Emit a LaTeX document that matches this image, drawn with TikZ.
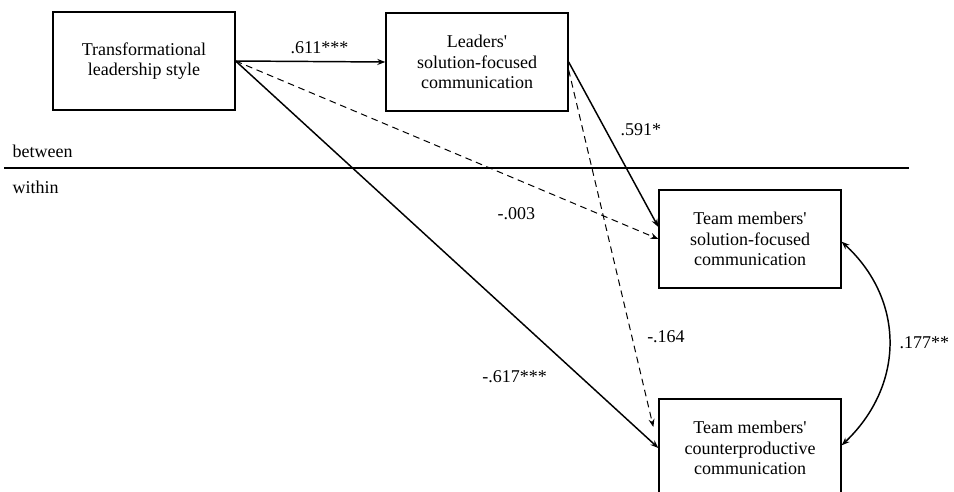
\documentclass[tikz,border=0pt]{standalone}
\usepackage{fontspec}
\setmainfont{Liberation Serif}[Ligatures=TeXOff]
\usetikzlibrary{arrows.meta}
\tikzset{
	var/.style={draw,line width=1pt,minimum width=136.5pt,minimum height=73.5pt,align=center,inner sep=2pt},
	eff/.style={->,line width=1.1pt},
	ns/.style={->,line width=0.75pt,dash pattern=on 5pt off 3.5pt},
}
\begin{document}
\begin{tikzpicture}[>={Stealth[length=6pt,width=4.5pt]},x=0.75pt,y=-0.75pt,font=\fontsize{13.5}{15.5}\selectfont]
	\useasboundingbox (0,0) rectangle (954,492);
	\node[var] (tls) at (144,61) {Transformational\\leadership style};
	\node[var] (lsf) at (477,62) {Leaders'\\solution-focused\\communication};
	\node[var] (msf) at (750,239) {Team members'\\solution-focused\\communication};
	\node[var] (mcp) at (750,448) {Team members'\\counterproductive\\communication};
	% levels
	\draw[line width=0.9pt] (4,168)--(909,168);
	\node[anchor=west] (btw) at (8,151) {between};
	\node[anchor=west] (wth) at (8,187) {within};
	% paths
	\draw[eff] (tls.east)--(lsf.west) node[pos=0.56,above=2pt] (p1) {.611***};
	\draw[ns] (tls.east)--(msf.west) node[pos=0.664,yshift=-25.5pt] (p2) {-.003};
	\draw[eff] (tls.east)--(mcp.west) node[pos=0.66,yshift=-45pt] (p3) {-.617***};
	\draw[eff] (lsf.east)--([yshift=9pt]msf.west) node[pos=0.41,xshift=26.5pt] (p4) {.591*};
	\draw[ns] ([yshift=-6pt]lsf.east)--([xshift=-3.75pt,yshift=15.75pt]mcp.west) node[pos=0.748,xshift=25.5pt] (p5) {-.164};
	\draw[eff,<->] ([yshift=-2pt]msf.east) .. controls (905,300) and (905,385) .. ([yshift=2pt]mcp.east) node[pos=0.5,right=4pt] (p6) {.177**};
\end{tikzpicture}
\end{document}
